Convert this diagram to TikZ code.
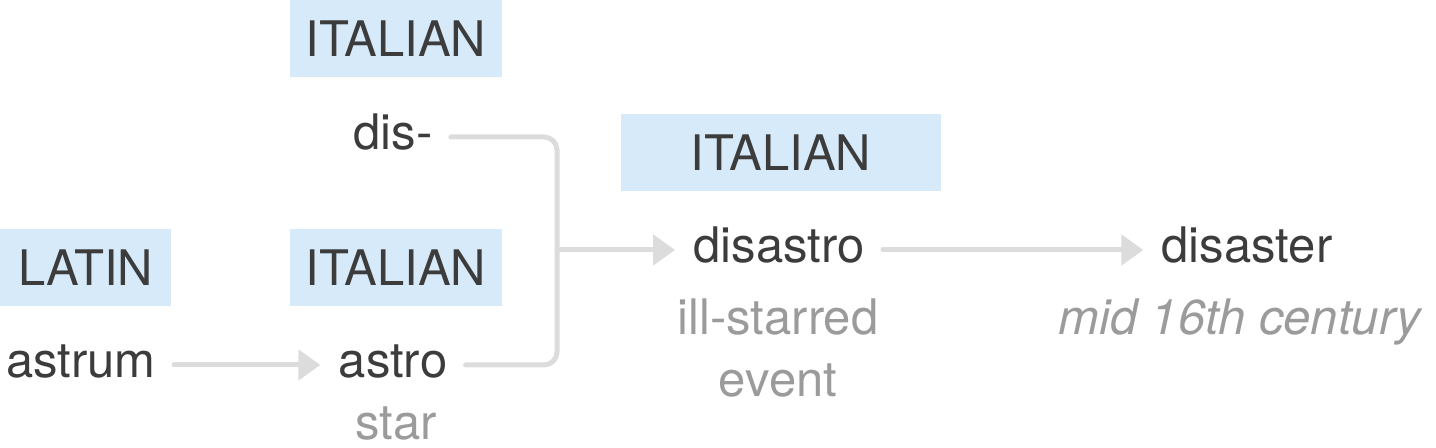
\documentclass[tikz,border=0pt]{standalone}
\usepackage{fontspec}
\setmainfont{TeX Gyre Heros}
\usetikzlibrary{arrows.meta}

\definecolor{langblue}{HTML}{D6EAFA}
\definecolor{wordgray}{HTML}{3C3C3C}
\definecolor{glossgray}{HTML}{9B9B9B}
\definecolor{linkgray}{HTML}{DCDCDC}

\tikzset{
  lang/.style={fill=langblue, text=wordgray, minimum height=38.5pt, inner sep=0pt,
    font=\fontsize{24.5}{29}\selectfont},
  word/.style={text=wordgray, anchor=base, inner xsep=9pt, inner ysep=0pt,
    font=\fontsize{24.5}{29}\selectfont},
  gloss/.style={text=glossgray, anchor=base, align=center, inner sep=0pt,
    font=\fontsize{24.5}{31}\selectfont},
  link/.style={draw=linkgray, line width=2.5pt, line cap=round},
  arrow/.style={link, -{Triangle[length=11pt, width=15pt]}},
}

\begin{document}
\begin{tikzpicture}[x=0.5pt, y=-0.5pt]
\useasboundingbox (0,0) rectangle (1436,448);

% language labels
\node[lang, minimum width=106pt] (itdis) at (396,38.5) {ITALIAN};
\node[lang, minimum width=85.5pt] (latin) at (85.5,267.5) {LATIN};
\node[lang, minimum width=106pt] (itastro) at (396,267.5) {ITALIAN};
\node[lang, minimum width=160pt] (itdisastro) at (781,153) {ITALIAN};

% words and glosses
\node[word] (dis) at (393,150) {dis-};
\node[word] (astrum) at (81,378) {astrum};
\node[word] (astro) at (393,378) {astro};
\node[gloss] (star) at (396,440) {star};
\node[word] (disastro) at (779,263) {disastro};
\node[gloss, anchor=north] (illstarred) at (778,298) {ill-starred\\event};
\node[word] (disaster) at (1247,263) {disaster};
\node[gloss, anchor=base west] (century) at (1058,335) {\itshape mid 16th century};

% connectors (lines sit 6.5pt above the baseline)
\coordinate (join) at (557,250);
\draw[arrow] ([yshift=6.5pt]astrum.base east) -- ([yshift=6.5pt]astro.base west);
\draw[link, rounded corners=6.5pt] ([yshift=6.5pt]dis.base east) -| (join)
  |- ([yshift=6.5pt]astro.base east);
\draw[arrow] (join) -- ([yshift=6.5pt]disastro.base west);
\draw[arrow] ([yshift=6.5pt]disastro.base east) -- ([yshift=6.5pt]disaster.base west);
\end{tikzpicture}
\end{document}
